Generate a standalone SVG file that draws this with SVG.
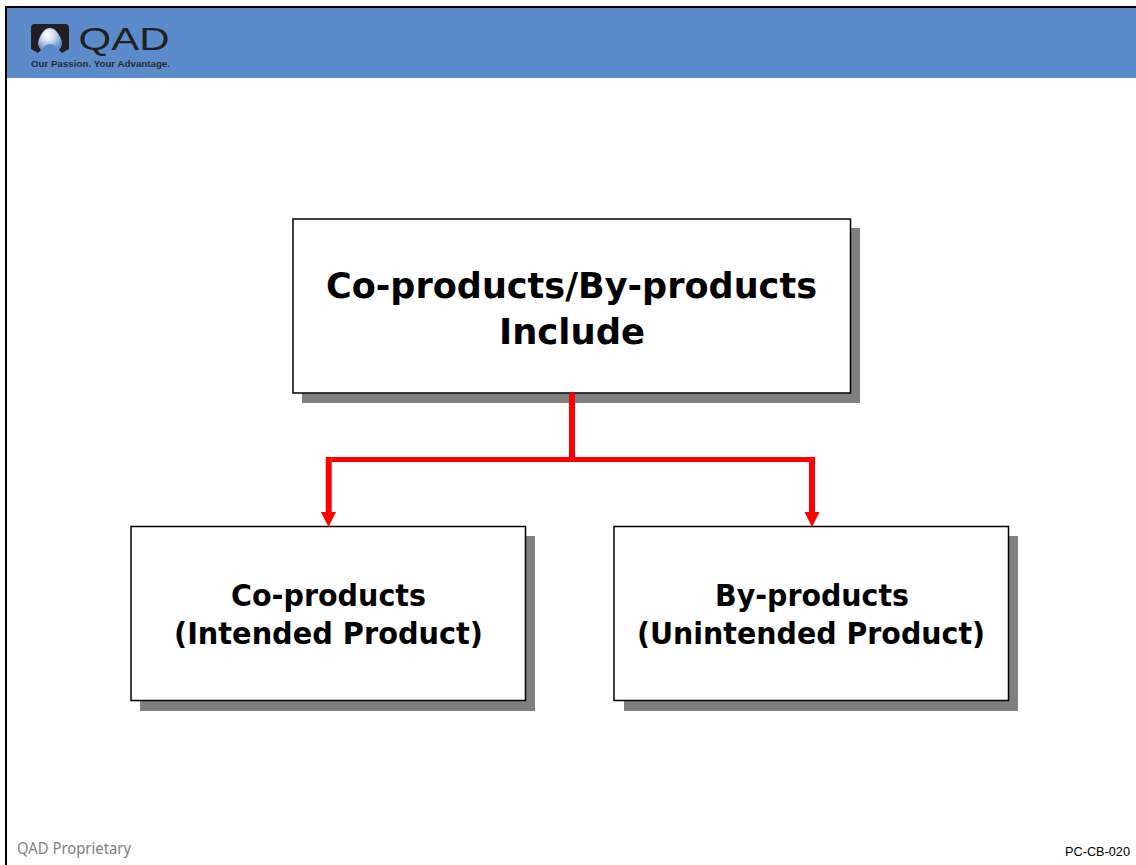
<svg xmlns="http://www.w3.org/2000/svg" width="1136" height="865" viewBox="0 0 1136 865">
<defs>
<radialGradient id="globe" gradientUnits="userSpaceOnUse" cx="48" cy="35" r="16"><stop offset="0" stop-color="#ffffff"/><stop offset="0.35" stop-color="#dbe5f4"/><stop offset="1" stop-color="#5b8bcb"/></radialGradient>
</defs>
<style>
.shadow{fill:#808080}
.box{fill:#fff;stroke:#000;stroke-width:1.5}
text{font-family:"DejaVu Sans",Verdana,sans-serif;font-weight:bold;fill:#000;text-anchor:middle}
.big{font-size:36px}
.mid{font-size:30px}
.v{fill:none;stroke:#ff0000;stroke-width:6}
.h{fill:none;stroke:#ff0000;stroke-width:5}
.head{fill:#ff0000}
</style>
<rect width="1136" height="865" fill="#fff"/>
<g id="header">
<rect x="7" y="8" width="1129" height="70" fill="#5b8bcb"/>
<rect x="5" y="6" width="1131" height="2" fill="#000"/>
<rect x="5" y="6" width="2" height="859" fill="#000"/>
</g>
<g id="logo">
<path d="M31 28 Q31 24 35 24 H65 Q69 24 69 28 V49 L62 53 L59 50 Q64 44 60 37 Q56 29 50 29 Q44 29 40 37 Q36 44 41 50 L38 53 L31 49 Z" fill="#231f20"/>
<path d="M41 50 Q36 44 40 37 Q44 28 50 28 Q56 28 60 37 Q64 44 59 50 Q50 38 41 50 Z" fill="url(#globe)"/>
<text x="124" y="50" style="font-family:'Liberation Sans',sans-serif;font-weight:normal;font-size:31px;fill:#231f20" textLength="91" lengthAdjust="spacingAndGlyphs">QAD</text>
<text x="100.500" y="67" style="font-family:'Liberation Sans',sans-serif;font-size:9.500px;fill:#2b2b2d" textLength="139" lengthAdjust="spacingAndGlyphs">Our Passion. Your Advantage.</text>
</g>
<g id="node-top">
<rect class="shadow" x="302" y="228" width="558" height="175"/>
<rect class="box" x="293" y="219" width="557.500" height="174"/>
<text class="big" x="571.500" y="298" textLength="491" lengthAdjust="spacingAndGlyphs">Co-products/By-products</text>
<text class="big" x="572" y="344" textLength="146" lengthAdjust="spacingAndGlyphs">Include</text>
</g>
<g id="node-co">
<rect class="shadow" x="140" y="536" width="395" height="175"/>
<rect class="box" x="131" y="526.500" width="394.500" height="174"/>
<text class="mid" x="328.500" y="606" textLength="195" lengthAdjust="spacingAndGlyphs">Co-products</text>
<text class="mid" x="328.500" y="644" textLength="309" lengthAdjust="spacingAndGlyphs">(Intended Product)</text>
</g>
<g id="node-by">
<rect class="shadow" x="624" y="536" width="394" height="175"/>
<rect class="box" x="614" y="526.500" width="394.500" height="174"/>
<text class="mid" x="812" y="606" textLength="194" lengthAdjust="spacingAndGlyphs">By-products</text>
<text class="mid" x="811" y="644" textLength="348" lengthAdjust="spacingAndGlyphs">(Unintended Product)</text>
</g>
<g id="connectors">
<path class="v" d="M572 393 V462"/>
<path class="h" d="M331.700 459.500 H815"/>
<path class="v" d="M328.700 457 V516"/>
<path class="v" d="M812 457 V516"/>
<path class="head" d="M321 512 H336 L328.500 527 Z"/>
<path class="head" d="M804.500 512 H819.500 L812 527 Z"/>
</g>
<g id="footer">
<text x="74" y="854" style="font-family:'Noto Sans','Open Sans',sans-serif;font-weight:normal;font-size:16px;fill:#808080" textLength="114" lengthAdjust="spacingAndGlyphs">QAD Proprietary</text>
<text x="1097.500" y="856" style="font-family:'Liberation Sans',sans-serif;font-weight:normal;font-size:12.500px" textLength="65" lengthAdjust="spacingAndGlyphs">PC-CB-020</text>
</g>
</svg>
